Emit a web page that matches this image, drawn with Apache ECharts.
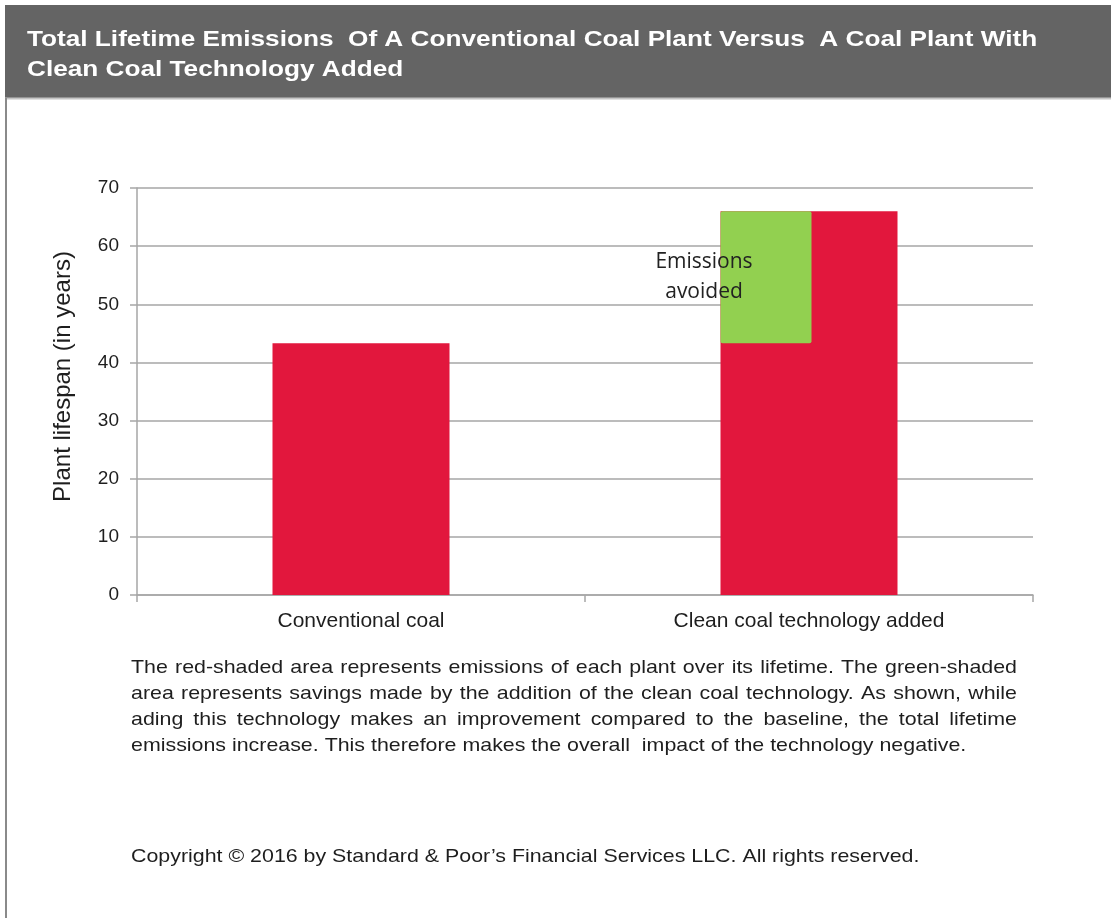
<!DOCTYPE html>
<html><head><meta charset="utf-8">
<script src="https://cdn.jsdelivr.net/npm/echarts@6/dist/echarts.min.js"></script>
<style>html,body{margin:0;padding:0;background:#fff}#c{width:1111px;height:918px}</style>
</head><body><div id="c"></div>
<script>
// ---- data ----
const categories = ['Conventional coal', 'Clean coal technology added'];
const lifetimeEmissions = [43.3, 66];          // red bars (years)
const avoidedFrom = [null, 43.3];               // green block bottom
const avoidedTo = [null, 66];                   // green block top
const avoidedLabel = 'Emissions\navoided';
const yMin = 0, yMax = 70, yInterval = 10;
const yAxisName = 'Plant lifespan (in years)';
const titleLines = [
  'Total Lifetime Emissions  Of A Conventional Coal Plant Versus  A Coal Plant With',
  'Clean Coal Technology Added'
];
const captionLines = [
  'The red-shaded area represents emissions of each plant over its lifetime. The  green-shaded',
  'area represents savings made by the addition of the clean coal  technology. As shown, while',
  'ading this technology makes an improvement compared  to the baseline, the total lifetime',
  'emissions increase. This therefore makes the overall  impact of the technology negative.'
];
const copyrightText = 'Copyright \u00A9 2016 by Standard & Poor\u2019s Financial Services LLC. All rights reserved.';

// ---- helpers ----
const RED = '#e2173d', GREEN = '#92d050', GRID = '#a6a6a6';
const TXT = '#1e1e1e';
const FONT = 'Liberation Sans, Arial, sans-serif';
const ctx = document.createElement('canvas').getContext('2d');
function measure(t, font) { ctx.font = font; return ctx.measureText(t).width; }

const capSize = 19, capScale = 1.125, capX = 131, capW = 886, capY0 = 668, capLH = 26;
const capFont = capSize + 'px ' + FONT;
const captionEls = [];
captionLines.forEach((line, i) => {
  const y = capY0 + i * capLH;
  const style = { fill: TXT, font: capFont, textVerticalAlign: 'middle' };
  if (i < captionLines.length - 1) {
    const words = line.split(/\s+/);
    const sum = words.reduce((s, w) => s + measure(w, capFont) * capScale, 0);
    const gap = (capW - sum) / (words.length - 1);
    let x = capX;
    words.forEach(w => {
      captionEls.push({ type: 'text', x: x, y: y, scaleX: capScale, style: Object.assign({ text: w }, style) });
      x += measure(w, capFont) * capScale + gap;
    });
  } else {
    captionEls.push({ type: 'text', x: capX, y: y, scaleX: capScale, style: Object.assign({ text: line }, style) });
  }
});

const chart = echarts.init(document.getElementById('c'), null, { renderer: 'canvas' });
chart.setOption({
  backgroundColor: '#fff',
  animation: false,
  grid: { left: 137, right: 78, top: 188, bottom: 323, containLabel: false },
  xAxis: {
    type: 'category', data: categories, boundaryGap: true,
    axisLine: { show: true, lineStyle: { color: GRID, width: 1.5 } },
    axisTick: { show: true, length: 7, lineStyle: { color: GRID, width: 1.5 } },
    axisLabel: { color: TXT, fontSize: 21, fontFamily: FONT, margin: 16 },
    splitLine: { show: false }
  },
  yAxis: {
    type: 'value', min: yMin, max: yMax, interval: yInterval,
    name: yAxisName, nameLocation: 'middle', nameRotate: 90, nameGap: 62,
    nameTextStyle: { color: TXT, fontSize: 24, fontFamily: FONT, padding: [0, 0, 0, 30] },
    axisLine: { show: true, lineStyle: { color: GRID, width: 1.5 } },
    axisTick: { show: true, length: 7, lineStyle: { color: GRID, width: 1.5 } },
    axisLabel: { color: TXT, fontSize: 19, fontFamily: FONT, margin: 18 },
    splitLine: { show: true, lineStyle: { color: GRID, width: 1.5 } }
  },
  series: [
    {
      name: 'avoidedBase', type: 'bar', stack: 'avoided', barWidth: 91, barGap: '-100%',
      data: avoidedFrom, itemStyle: { color: 'transparent' }, silent: true, z: 3
    },
    {
      name: 'Emissions avoided', type: 'bar', stack: 'avoided', barWidth: 91, barGap: '-100%',
      data: avoidedTo.map((v, i) => v == null ? null : +(v - avoidedFrom[i]).toFixed(2)),
      itemStyle: { color: GREEN, borderRadius: 2 }, z: 4,
      label: {
        show: true, position: 'inside', offset: [-62, 0],
        formatter: () => avoidedLabel,
        color: '#222', fontSize: 21, lineHeight: 30, fontFamily: 'Open Sans, sans-serif'
      }
    },
    {
      name: 'Lifetime emissions', type: 'bar', stack: 'total', barWidth: 177, barGap: '-100%',
      data: lifetimeEmissions, itemStyle: { color: RED }, z: 2
    }
  ],
  graphic: [
    { type: 'rect', shape: { x: 5, y: 5, width: 1106, height: 93 }, style: { fill: '#646464' }, z: 0 },
    { type: 'line', shape: { x1: 5, y1: 98.5, x2: 1111, y2: 98.5 }, style: { stroke: '#c4c4c4', lineWidth: 2 } },
    { type: 'line', shape: { x1: 6, y1: 98, x2: 6, y2: 918 }, style: { stroke: '#8a8a8a', lineWidth: 2 } },
    { type: 'text', x: 27, y: 40, scaleX: 1.19, style: { text: titleLines[0], fill: '#fff', font: 'bold 22px ' + FONT, textVerticalAlign: 'middle' } },
    { type: 'text', x: 27, y: 70, scaleX: 1.19, style: { text: titleLines[1], fill: '#fff', font: 'bold 22px ' + FONT, textVerticalAlign: 'middle' } },
    ...captionEls,
    { type: 'text', x: 131, y: 857, scaleX: capScale, style: { text: copyrightText, fill: TXT, font: capFont, textVerticalAlign: 'middle' } }
  ]
});
</script></body></html>
